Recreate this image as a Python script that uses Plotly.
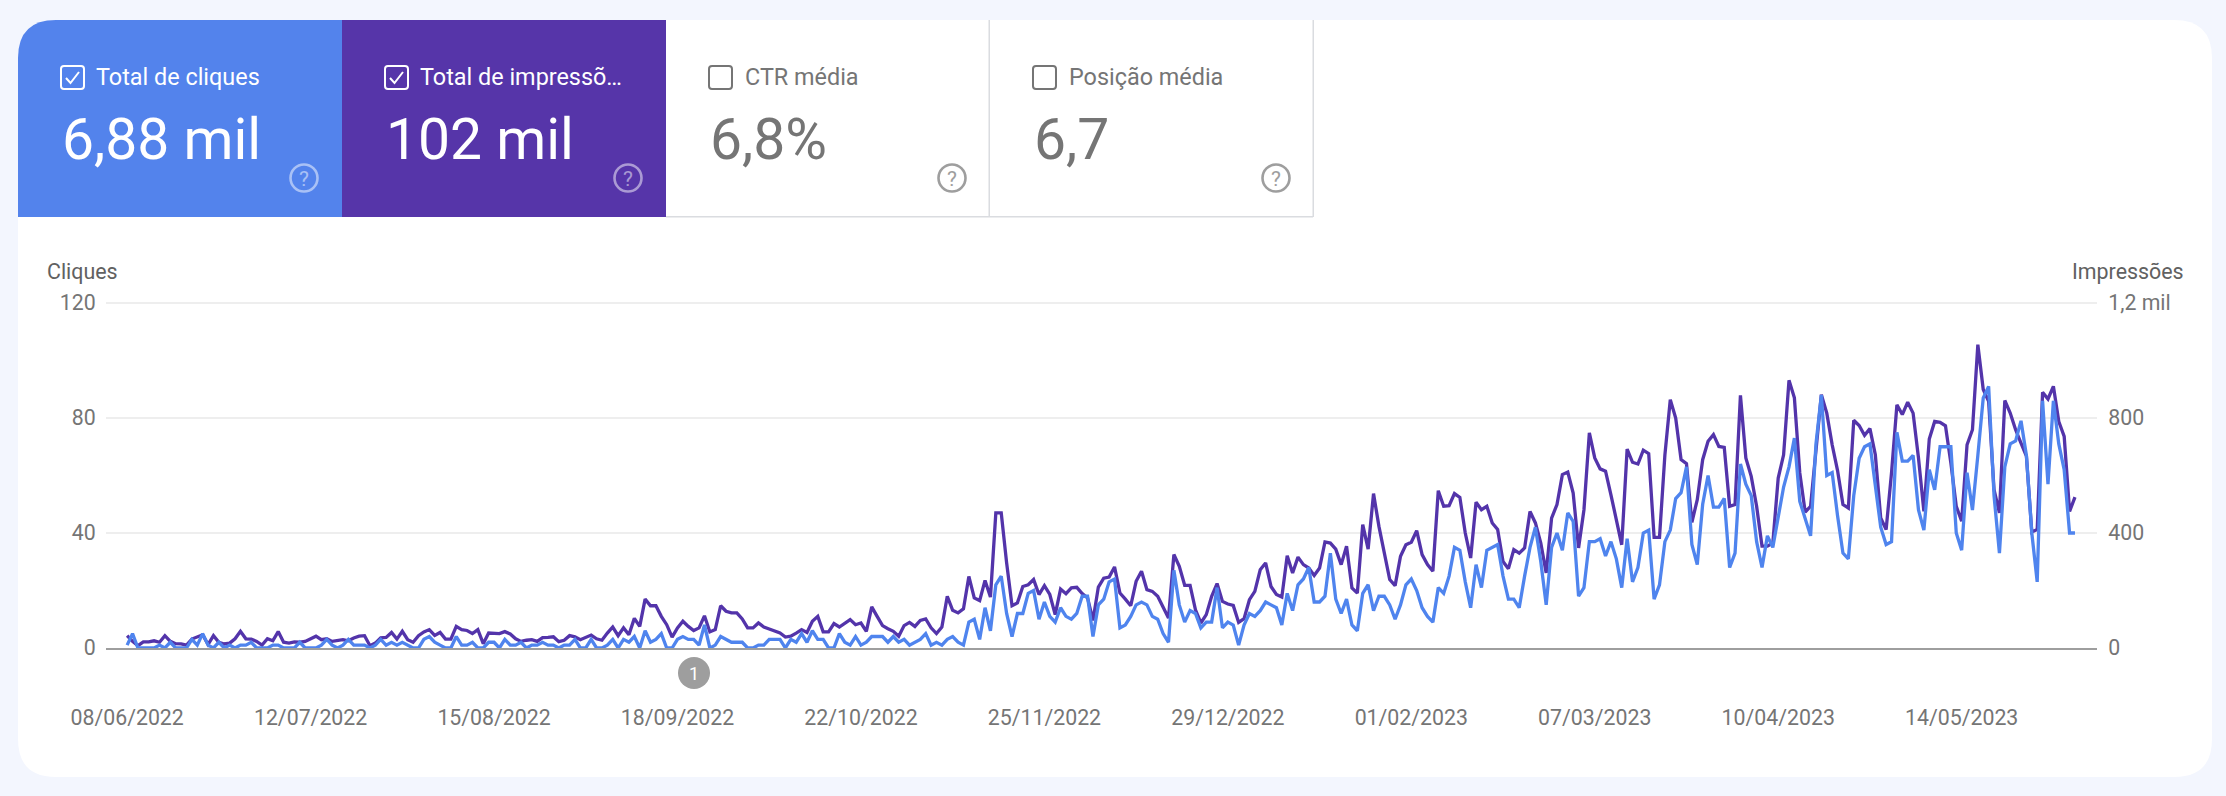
import plotly.graph_objects as go
import pandas as pd

W, H = 2226, 796

first_day = "2022-06-08"

clicks = [
    1,5,0,0,0,0,1,0,2,0, 0,0,3,1,5,1,0,2,0,1, 0,1,1,2,0,0,0,1,1,0,
    0,0,2,0,0,0,1,3,1,0, 1,3,1,1,1,0,1,3,1,2, 1,2,1,0,0,3,4,2,1,0,
    0,4,1,1,2,0,0,2,2,0, 3,1,1,2,0,1,1,2,1,1, 0,1,1,3,0,0,3,0,0,1,
    3,0,3,2,4,0,6,2,3,5, 0,0,3,4,3,3,1,8,0,1, 4,3,2,2,2,0,0,1,1,3,
    3,3,0,3,2,5,2,6,3,3, 0,0,5,2,1,4,1,2,4,4, 4,2,4,2,3,1,2,3,5,1,
    2,1,3,4,2,1,9,10,3,14, 6,22,25,12,4,12,12,19,20,10, 16,11,9,14,11,10,12,18,18,4,
    15,17,23,24,7,8,11,15,16,15, 11,10,5,2,27,15,9,13,12,7, 9,9,21,7,9,8,1,8,12,11,
    13,16,15,14,8,19,13,22,24,28, 16,16,18,33,17,12,17,8,6,19, 22,13,18,18,15,10,15,22,24,20,
    14,11,9,21,19,25,35,34,23,14, 29,21,34,35,36,25,17,17,14,25, 35,42,30,15,35,40,34,47,44,18,
    21,37,37,38,32,37,31,21,38,23, 28,40,41,17,22,37,41,52,54,63, 36,29,50,60,49,49,52,28,33,64,
    57,53,37,28,39,35,46,56,63,73, 51,45,39,71,88,60,61,46,33,31, 53,66,70,71,57,42,36,37,75,65,
    65,67,48,41,62,55,70,70,70,40, 34,61,48,67,87,91,53,33,63,71, 72,79,67,40,23,86,57,86,71,62,40,40,
]

impressions = [
    43,23,8,21,21,25,20,43,23,15, 14,10,31,37,46,12,43,20,14,17, 32,58,32,31,23,10,32,25,57,20,
    17,21,20,23,31,41,29,32,23,27, 29,25,35,41,43,8,17,35,37,54, 31,58,29,20,43,56,64,44,54,31,
    31,75,64,61,50,64,15,52,50,50, 57,49,32,23,27,29,23,36,37,39, 22,27,43,39,29,38,45,32,27,52,
    73,43,70,46,103,75,170,147,147,110, 81,38,70,93,75,61,70,112,56,64, 147,128,122,122,101,70,70,87,73,66,
    58,52,38,41,52,64,54,93,110,56, 56,85,73,85,99,81,87,58,143,110, 78,67,58,41,78,89,75,96,101,70,
    50,73,180,131,122,136,249,174,165,235, 177,470,470,296,147,157,214,220,238,186, 217,186,116,205,189,209,211,189,174,96,
    212,243,247,282,191,170,147,232,267,203, 197,180,139,104,325,284,218,218,133,87, 116,180,224,162,153,148,89,102,168,197,
    272,296,214,186,177,321,261,316,290,278, 252,278,369,365,344,290,354,209,191,429, 344,537,423,330,238,217,319,359,368,408,
    325,290,267,547,493,495,537,524,400,313, 507,481,493,435,412,301,276,342,330,348, 475,435,365,261,452,499,603,612,539,348,
    481,748,661,623,615,533,452,359,692,646, 640,688,676,385,385,672,864,800,655,641, 437,516,655,719,742,701,698,493,499,879,
    661,597,493,354,354,365,591,672,931,870, 609,473,493,690,881,817,707,617,499,487, 792,774,740,763,672,452,412,609,846,812,
    855,817,661,475,727,788,785,773,643,493, 441,707,759,1055,899,858,551,470,861,817, 759,713,667,403,412,889,866,910,788,736,475,525,
]

date_ticks = ["2022-06-08", "2022-07-12", "2022-08-15", "2022-09-18", "2022-10-22", "2022-11-25",
              "2022-12-29", "2023-02-01", "2023-03-07", "2023-04-10", "2023-05-14"]
date_labels = ["08/06/2022", "12/07/2022", "15/08/2022", "18/09/2022", "22/10/2022", "25/11/2022",
               "29/12/2022", "01/02/2023", "07/03/2023", "10/04/2023", "14/05/2023"]

click_ticks = [0, 40, 80, 120]
click_labels = ["0", "40", "80", "120"]
impr_ticks = [0, 400, 800, 1200]
impr_labels = ["0", "400", "800", "1,2 mil"]

tile_titles = ["Total de cliques", "Total de impressõ…", "CTR média", "Posição média"]
tile_values = ["6,88 mil", "102 mil", "6,8%", "6,7"]

BG = "#f3f6fe"
BLUE = "#5383ec"
PURPLE = "#5635a9"
LINE_BLUE = "#4f84ee"
LINE_PURPLE = "#5334aa"
GREY = "#757575"
BORDER = "#dadce0"
ROBOTO = "Roboto"


def px(x):
    return x / W


def py(y):
    return 1 - y / H


def rect(x0, y0, x1, y1, **kw):
    return dict(type="rect", xref="paper", yref="paper", x0=px(x0), x1=px(x1),
                y0=py(y1), y1=py(y0), layer="below", **kw)


def path(points, **kw):
    d = " ".join(p if isinstance(p, str) else f"{px(p[0]):.5f},{py(p[1]):.5f}" for p in points)
    return dict(type="path", xref="paper", yref="paper", path=d, **kw)


def label(x, y, text, size, color, weight=400, xanchor="left"):
    return dict(xref="paper", yref="paper", x=px(x), y=py(y), text=text, showarrow=False,
                xanchor=xanchor, yanchor="middle", borderpad=0, borderwidth=0,
                font=dict(family=ROBOTO, size=size, color=color, weight=weight))


def circle(cx, cy, r, **kw):
    return dict(type="circle", xref="paper", yref="paper", x0=px(cx - r), x1=px(cx + r),
                y0=py(cy + r), y1=py(cy - r), **kw)


def rounded_panel(x0, y0, x1, y1, r):
    # plain rounded box, corners approximated with short quadratic curves
    return " ".join([
        f"M {px(x0 + r):.5f},{py(y0):.5f}",
        f"L {px(x1 - r):.5f},{py(y0):.5f}",
        f"Q {px(x1):.5f},{py(y0):.5f} {px(x1):.5f},{py(y0 + r):.5f}",
        f"L {px(x1):.5f},{py(y1 - r):.5f}",
        f"Q {px(x1):.5f},{py(y1):.5f} {px(x1 - r):.5f},{py(y1):.5f}",
        f"L {px(x0 + r):.5f},{py(y1):.5f}",
        f"Q {px(x0):.5f},{py(y1):.5f} {px(x0):.5f},{py(y1 - r):.5f}",
        f"L {px(x0):.5f},{py(y0 + r):.5f}",
        f"Q {px(x0):.5f},{py(y0):.5f} {px(x0 + r):.5f},{py(y0):.5f} Z",
    ])


days = pd.date_range(first_day, periods=len(clicks), freq="D")

fig = go.Figure()
fig.add_trace(go.Scatter(x=days, y=impressions, mode="lines", yaxis="y", name="Impressões",
                         line=dict(color=LINE_PURPLE, width=3.3)))
fig.add_trace(go.Scatter(x=days, y=clicks, mode="lines", yaxis="y2", name="Cliques",
                         line=dict(color=LINE_BLUE, width=3.3)))

shapes = []
annotations = []

# card
shapes.append(dict(type="path", xref="paper", yref="paper", layer="below",
                   path=rounded_panel(18, 20, 2212, 777, 38), fillcolor="white", line_width=0))

# coloured tiles, the first one follows the card corner
r = 38
shapes.append(dict(type="path", xref="paper", yref="paper", layer="below", fillcolor=BLUE, line_width=0,
                   path=" ".join([f"M {px(18 + r):.5f},{py(20):.5f}", f"L {px(342):.5f},{py(20):.5f}",
                                  f"L {px(342):.5f},{py(217):.5f}", f"L {px(18):.5f},{py(217):.5f}",
                                  f"L {px(18):.5f},{py(20 + r):.5f}",
                                  f"Q {px(18):.5f},{py(20):.5f} {px(18 + r):.5f},{py(20):.5f} Z"])))
shapes.append(rect(342, 20, 666, 217, fillcolor=PURPLE, line_width=0))

# thin borders of the two white tiles
shapes.append(rect(666, 216, 1313, 217.5, fillcolor=BORDER, line_width=0))
shapes.append(rect(988.5, 20, 990, 217, fillcolor=BORDER, line_width=0))
shapes.append(rect(1312.5, 20, 1314, 217, fillcolor=BORDER, line_width=0))

box_x = [61, 385, 709, 1033]
title_x = [96, 420, 745, 1069]
value_x = [62, 386, 710, 1034]
help_x = [304, 628, 952, 1276]
for i in range(4):
    on_colour = i < 2
    fg = "white" if on_colour else GREY
    help_color = "rgba(255,255,255,0.5)" if on_colour else "#9e9e9e"
    x = box_x[i]
    shapes.append(path(
        ["M", (x + 3, 66), "L", (x + 20, 66), "Q", (x + 23, 66), (x + 23, 69), "L", (x + 23, 86),
         "Q", (x + 23, 89), (x + 20, 89), "L", (x + 3, 89), "Q", (x, 89), (x, 86), "L", (x, 69),
         "Q", (x, 66), (x + 3, 66), "Z"],
        line=dict(color=fg, width=2), fillcolor="rgba(0,0,0,0)"))
    if on_colour:
        shapes.append(path(["M", (x + 5, 78), "L", (x + 9.5, 83), "L", (x + 18, 72)],
                           line=dict(color="white", width=2)))
    annotations.append(label(title_x[i], 77, tile_titles[i], 23.4, fg))
    annotations.append(label(value_x[i], 139.5, tile_values[i], 57, fg))
    shapes.append(circle(help_x[i], 178, 13.5, line=dict(color=help_color, width=2.6)))
    annotations.append(label(help_x[i], 178.5, "?", 21, help_color, xanchor="center"))

# axis captions and the annotation badge under the chart
annotations.append(label(47, 272, "Cliques", 21.4, "#616161"))
annotations.append(label(2184, 272, "Impressões", 21.4, "#616161", xanchor="right"))
shapes.append(circle(694, 673, 16, fillcolor="#9e9e9e", line_width=0))
annotations.append(label(694, 673.5, "1", 18, "white", xanchor="center"))

tick_font = dict(family=ROBOTO, size=21.3, color=GREY)
# plot area runs 3px above the top gridline, plotly drops a gridline within 1px of the end
plot_domain_y = [py(648), py(300)]

fig.update_layout(
    width=W,
    height=H,
    paper_bgcolor=BG,
    plot_bgcolor="rgba(0,0,0,0)",
    margin=dict(l=0, r=0, t=0, b=0, autoexpand=False),
    showlegend=False,
    shapes=shapes,
    annotations=annotations,
    xaxis=dict(
        automargin=False,
        domain=[px(106), px(2097)],
        type="date",
        range=["2022-06-04 02:00", "2023-06-08 02:00"],
        tickmode="array",
        tickvals=date_ticks,
        ticktext=date_labels,
        tickfont=tick_font,
        ticks="outside",
        ticklen=50,
        tickcolor="rgba(0,0,0,0)",
        showgrid=False,
        zeroline=False,
        showline=True,
        linecolor="#9e9e9e",
        linewidth=1.5,
        anchor="y",
    ),
    yaxis=dict(
        automargin=False,
        domain=plot_domain_y,
        side="right",
        range=[0, 1210.4],
        tickmode="array",
        tickvals=impr_ticks,
        ticktext=impr_labels,
        tickfont=tick_font,
        ticks="outside",
        ticklen=6,
        tickcolor="rgba(0,0,0,0)",
        showgrid=True,
        gridcolor="#eeeeee",
        gridwidth=1.5,
        zeroline=False,
        showline=False,
    ),
    yaxis2=dict(
        automargin=False,
        domain=plot_domain_y,
        side="left",
        overlaying="y",
        anchor="x",
        range=[0, 121.04],
        tickmode="array",
        tickvals=click_ticks,
        ticktext=click_labels,
        tickfont=tick_font,
        ticks="outside",
        ticklen=5,
        tickcolor="rgba(0,0,0,0)",
        showgrid=False,
        zeroline=False,
        showline=False,
    ),
)

# page margin off, otherwise the figure sits 8px in from the window corner
fig.write_html("out.html", config=dict(displayModeBar=False),
               post_script="document.body.style.margin='0';document.body.style.background='#f3f6fe';")
